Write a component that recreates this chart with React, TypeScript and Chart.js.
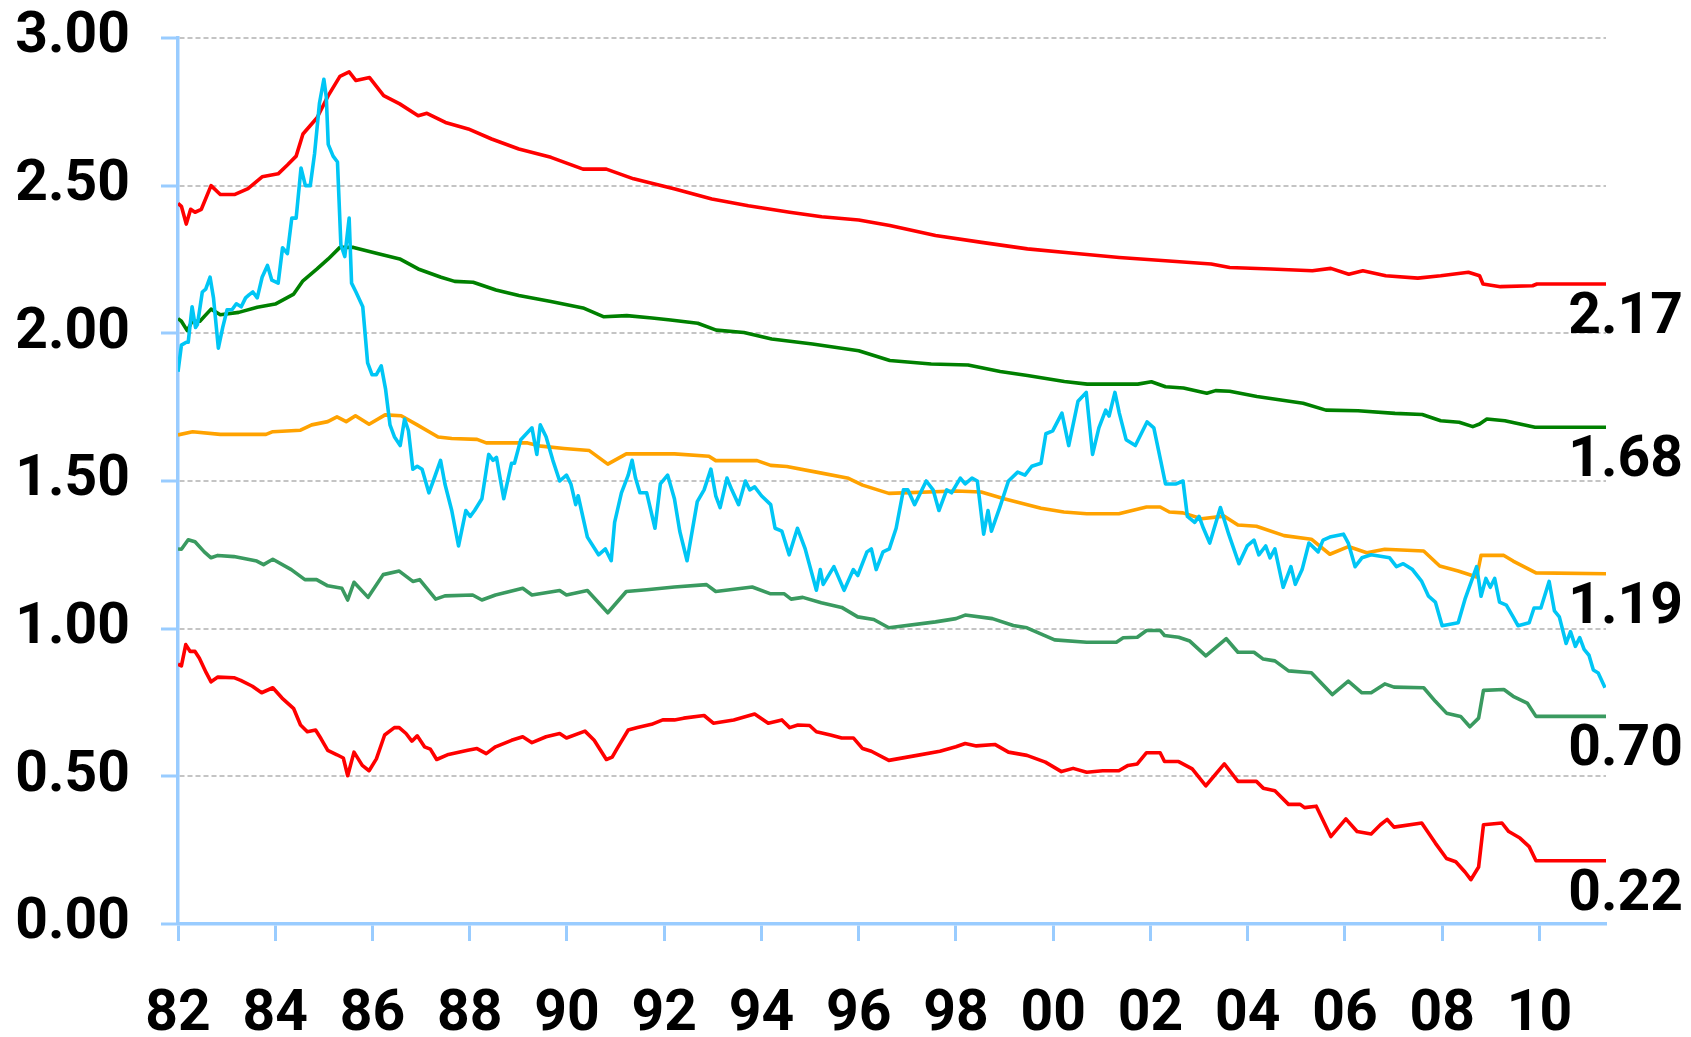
import React, { useEffect, useRef } from "react";
import { Chart, registerables } from "chart.js";

Chart.register(...registerables);

type Pt = [number, number];

const yTicks = [0, 0.5, 1, 1.5, 2, 2.5, 3];
const xStart = 1982;
const xEnd = 2011.37;

const upperRed: Pt[] = [
  [1982.0, 2.44], [1982.07, 2.43], [1982.17, 2.37], [1982.26, 2.42], [1982.35, 2.41], [1982.48, 2.42],
  [1982.68, 2.5], [1982.87, 2.47], [1983.16, 2.47], [1983.44, 2.49], [1983.73, 2.53], [1984.06, 2.54],
  [1984.25, 2.57], [1984.43, 2.6], [1984.57, 2.675], [1984.86, 2.73], [1985.09, 2.805], [1985.33, 2.87],
  [1985.52, 2.885], [1985.66, 2.856], [1985.94, 2.866], [1986.23, 2.805], [1986.56, 2.777], [1986.94, 2.737],
  [1987.12, 2.745], [1987.5, 2.714], [1987.97, 2.692], [1988.45, 2.658], [1989.01, 2.624], [1989.67, 2.596],
  [1990.33, 2.556], [1990.81, 2.556], [1991.37, 2.523], [1992.22, 2.489], [1992.98, 2.455], [1993.73, 2.432],
  [1994.58, 2.41], [1995.24, 2.395], [1996.0, 2.384], [1996.64, 2.365], [1997.11, 2.348], [1997.58, 2.331],
  [1998.53, 2.308], [1999.47, 2.286], [2000.42, 2.271], [2001.36, 2.257], [2002.31, 2.246], [2003.25, 2.235],
  [2003.63, 2.223], [2004.48, 2.218], [2005.33, 2.212], [2005.71, 2.22], [2006.08, 2.2], [2006.37, 2.212],
  [2006.84, 2.195], [2007.5, 2.187], [2007.97, 2.195], [2008.54, 2.207], [2008.77, 2.195], [2008.84, 2.167],
  [2009.2, 2.158], [2009.86, 2.161], [2009.95, 2.167], [2011.37, 2.167],
];

const darkGreen: Pt[] = [
  [1982.0, 2.05], [1982.07, 2.041], [1982.19, 2.009], [1982.29, 2.041], [1982.45, 2.041], [1982.68, 2.082],
  [1982.87, 2.063], [1983.25, 2.071], [1983.63, 2.088], [1984.0, 2.099], [1984.38, 2.133], [1984.57, 2.178],
  [1984.86, 2.218], [1985.09, 2.252], [1985.33, 2.291], [1985.61, 2.291], [1986.08, 2.271], [1986.56, 2.252],
  [1986.94, 2.218], [1987.41, 2.19], [1987.69, 2.176], [1988.07, 2.173], [1988.54, 2.147], [1989.01, 2.128],
  [1989.67, 2.108], [1990.33, 2.086], [1990.76, 2.056], [1991.23, 2.06], [1991.75, 2.052], [1992.13, 2.045],
  [1992.69, 2.034], [1993.07, 2.011], [1993.64, 2.003], [1994.21, 1.981], [1995.05, 1.964], [1996.0, 1.941],
  [1996.64, 1.908], [1997.49, 1.896], [1998.25, 1.893], [1998.91, 1.871], [1999.47, 1.857], [2000.23, 1.837],
  [2000.7, 1.828], [2001.74, 1.828], [2002.02, 1.836], [2002.31, 1.819], [2002.68, 1.815], [2003.16, 1.797],
  [2003.34, 1.806], [2003.63, 1.804], [2004.19, 1.786], [2005.14, 1.763], [2005.61, 1.74], [2006.27, 1.738],
  [2007.03, 1.729], [2007.59, 1.725], [2007.97, 1.704], [2008.35, 1.699], [2008.63, 1.684], [2008.77, 1.693],
  [2008.92, 1.71], [2009.29, 1.704], [2009.91, 1.682], [2011.37, 1.682],
];

const orange: Pt[] = [
  [1982.0, 1.656], [1982.3, 1.667], [1982.87, 1.658], [1983.81, 1.658], [1983.95, 1.667], [1984.52, 1.672],
  [1984.75, 1.69], [1985.08, 1.701], [1985.27, 1.717], [1985.46, 1.701], [1985.65, 1.721], [1985.93, 1.692],
  [1986.26, 1.724], [1986.59, 1.721], [1986.92, 1.69], [1987.35, 1.649], [1987.63, 1.644], [1988.15, 1.641],
  [1988.34, 1.629], [1989.19, 1.629], [1989.47, 1.618], [1989.94, 1.61], [1990.46, 1.603], [1990.84, 1.557],
  [1991.22, 1.592], [1992.21, 1.592], [1992.92, 1.584], [1993.06, 1.569], [1993.91, 1.569], [1994.19, 1.553],
  [1994.52, 1.549], [1995.13, 1.53], [1995.79, 1.509], [1996.08, 1.486], [1996.62, 1.458], [1998.0, 1.466],
  [1998.52, 1.463], [1998.99, 1.44], [1999.75, 1.408], [2000.22, 1.395], [2000.69, 1.389], [2001.35, 1.389],
  [2001.92, 1.412], [2002.2, 1.412], [2002.39, 1.395], [2002.67, 1.392], [2003.05, 1.372], [2003.52, 1.381],
  [2003.8, 1.351], [2004.18, 1.347], [2004.75, 1.315], [2005.31, 1.303], [2005.69, 1.252], [2006.07, 1.278],
  [2006.45, 1.257], [2006.82, 1.269], [2007.62, 1.263], [2007.95, 1.212], [2008.33, 1.195], [2008.71, 1.175],
  [2008.8, 1.248], [2009.27, 1.248], [2009.46, 1.229], [2009.93, 1.189], [2011.37, 1.186],
];

const seaGreen: Pt[] = [
  [1982.0, 1.27], [1982.07, 1.269], [1982.21, 1.301], [1982.35, 1.294], [1982.54, 1.26], [1982.68, 1.24],
  [1982.82, 1.248], [1983.15, 1.244], [1983.62, 1.229], [1983.76, 1.217], [1983.95, 1.235], [1984.33, 1.2],
  [1984.61, 1.166], [1984.85, 1.166], [1985.08, 1.145], [1985.37, 1.137], [1985.49, 1.097], [1985.62, 1.157],
  [1985.91, 1.106], [1986.22, 1.183], [1986.55, 1.195], [1986.83, 1.16], [1986.97, 1.166], [1987.3, 1.1],
  [1987.49, 1.111], [1988.06, 1.114], [1988.25, 1.097], [1988.53, 1.114], [1989.09, 1.137], [1989.28, 1.114],
  [1989.85, 1.129], [1989.99, 1.114], [1990.42, 1.129], [1990.84, 1.054], [1991.22, 1.126], [1991.64, 1.132],
  [1992.21, 1.141], [1992.87, 1.149], [1993.06, 1.126], [1993.81, 1.141], [1994.19, 1.118], [1994.47, 1.118],
  [1994.61, 1.1], [1994.85, 1.106], [1995.23, 1.088], [1995.65, 1.072], [1995.98, 1.04], [1996.31, 1.031],
  [1996.62, 1.003], [1997.58, 1.023], [1998.0, 1.034], [1998.19, 1.046], [1998.75, 1.034], [1999.18, 1.011],
  [1999.46, 1.003], [2000.03, 0.962], [2000.69, 0.954], [2001.3, 0.954], [2001.44, 0.969], [2001.73, 0.971],
  [2001.92, 0.994], [2002.2, 0.994], [2002.29, 0.977], [2002.58, 0.971], [2002.81, 0.958], [2003.14, 0.908],
  [2003.56, 0.966], [2003.8, 0.92], [2004.13, 0.92], [2004.32, 0.897], [2004.56, 0.891], [2004.84, 0.857],
  [2005.31, 0.851], [2005.74, 0.777], [2006.07, 0.822], [2006.35, 0.783], [2006.54, 0.783], [2006.82, 0.813],
  [2007.01, 0.802], [2007.62, 0.8], [2007.86, 0.754], [2008.09, 0.714], [2008.38, 0.703], [2008.57, 0.668],
  [2008.75, 0.697], [2008.85, 0.791], [2009.27, 0.794], [2009.46, 0.771], [2009.75, 0.748], [2009.93, 0.703],
  [2011.37, 0.703],
];

const lowerRed: Pt[] = [
  [1982.0, 0.88], [1982.07, 0.874], [1982.16, 0.946], [1982.25, 0.923], [1982.35, 0.923], [1982.44, 0.9],
  [1982.58, 0.851], [1982.68, 0.82], [1982.82, 0.836], [1983.15, 0.834], [1983.29, 0.825], [1983.53, 0.805],
  [1983.72, 0.783], [1983.95, 0.8], [1984.14, 0.765], [1984.38, 0.729], [1984.52, 0.674], [1984.66, 0.651],
  [1984.83, 0.657], [1984.94, 0.628], [1985.08, 0.588], [1985.27, 0.573], [1985.4, 0.562], [1985.49, 0.502],
  [1985.62, 0.582], [1985.79, 0.537], [1985.93, 0.519], [1986.08, 0.559], [1986.25, 0.64], [1986.45, 0.665],
  [1986.55, 0.665], [1986.69, 0.645], [1986.81, 0.619], [1986.92, 0.637], [1987.07, 0.6], [1987.19, 0.592],
  [1987.32, 0.557], [1987.54, 0.573], [1987.96, 0.588], [1988.15, 0.594], [1988.34, 0.577], [1988.53, 0.6],
  [1988.86, 0.622], [1989.09, 0.634], [1989.28, 0.614], [1989.57, 0.634], [1989.85, 0.645], [1989.99, 0.63],
  [1990.37, 0.653], [1990.56, 0.622], [1990.81, 0.557], [1990.93, 0.565], [1991.03, 0.594], [1991.26, 0.657],
  [1991.45, 0.665], [1991.74, 0.676], [1991.97, 0.691], [1992.21, 0.691], [1992.4, 0.697], [1992.82, 0.706],
  [1993.01, 0.68], [1993.43, 0.691], [1993.86, 0.711], [1994.14, 0.68], [1994.42, 0.691], [1994.58, 0.665],
  [1994.75, 0.674], [1994.99, 0.672], [1995.13, 0.651], [1995.42, 0.64], [1995.65, 0.63], [1995.89, 0.63],
  [1996.08, 0.594], [1996.26, 0.585], [1996.62, 0.554], [1997.2, 0.571], [1997.67, 0.585], [1998.0, 0.6],
  [1998.19, 0.611], [1998.42, 0.603], [1998.8, 0.608], [1999.08, 0.582], [1999.46, 0.571], [1999.84, 0.548],
  [2000.17, 0.516], [2000.41, 0.527], [2000.69, 0.514], [2001.02, 0.519], [2001.35, 0.519], [2001.54, 0.537],
  [2001.73, 0.542], [2001.92, 0.58], [2002.2, 0.58], [2002.29, 0.55], [2002.58, 0.55], [2002.86, 0.525],
  [2003.14, 0.468], [2003.52, 0.542], [2003.8, 0.483], [2004.18, 0.483], [2004.32, 0.46], [2004.56, 0.451],
  [2004.84, 0.405], [2005.08, 0.405], [2005.17, 0.394], [2005.41, 0.399], [2005.71, 0.296], [2006.02, 0.356],
  [2006.25, 0.313], [2006.54, 0.305], [2006.73, 0.336], [2006.87, 0.354], [2007.01, 0.328], [2007.58, 0.342],
  [2007.86, 0.274], [2008.09, 0.222], [2008.28, 0.211], [2008.47, 0.176], [2008.59, 0.15], [2008.75, 0.193],
  [2008.85, 0.336], [2009.23, 0.342], [2009.37, 0.313], [2009.6, 0.291], [2009.79, 0.262], [2009.93, 0.214],
  [2011.37, 0.214],
];

const skyBlue: Pt[] = [
  [1982.0, 1.87], [1982.07, 1.96], [1982.17, 1.97], [1982.21, 1.97], [1982.29, 2.09], [1982.36, 2.02], [1982.4, 2.03],
  [1982.5, 2.14], [1982.57, 2.15], [1982.66, 2.19], [1982.73, 2.12], [1982.83, 1.95], [1982.92, 2.02], [1983.01, 2.08],
  [1983.11, 2.08], [1983.2, 2.1], [1983.3, 2.09], [1983.39, 2.12], [1983.46, 2.13], [1983.54, 2.14], [1983.63, 2.12],
  [1983.73, 2.19], [1983.84, 2.23], [1983.93, 2.18], [1984.06, 2.17], [1984.15, 2.29], [1984.25, 2.27], [1984.34, 2.39],
  [1984.43, 2.39], [1984.53, 2.56], [1984.62, 2.5], [1984.72, 2.5], [1984.81, 2.61], [1984.91, 2.78], [1985.0, 2.86],
  [1985.05, 2.8], [1985.09, 2.64], [1985.19, 2.6], [1985.28, 2.58], [1985.35, 2.3], [1985.43, 2.26], [1985.52, 2.39],
  [1985.57, 2.17], [1985.66, 2.14], [1985.8, 2.09], [1985.9, 1.9], [1985.99, 1.86], [1986.08, 1.86], [1986.18, 1.89],
  [1986.27, 1.81], [1986.36, 1.69], [1986.45, 1.65], [1986.57, 1.62], [1986.66, 1.71], [1986.74, 1.67], [1986.83, 1.54],
  [1986.92, 1.55], [1987.02, 1.54], [1987.16, 1.46], [1987.25, 1.5], [1987.4, 1.57], [1987.49, 1.49], [1987.63, 1.4],
  [1987.77, 1.28], [1987.92, 1.4], [1988.01, 1.38], [1988.1, 1.4], [1988.25, 1.44], [1988.39, 1.59], [1988.48, 1.57],
  [1988.55, 1.58], [1988.7, 1.44], [1988.86, 1.56], [1988.92, 1.56], [1989.05, 1.64], [1989.28, 1.68], [1989.38, 1.59],
  [1989.45, 1.69], [1989.57, 1.65], [1989.71, 1.57], [1989.85, 1.5], [1989.99, 1.52], [1990.08, 1.49], [1990.18, 1.42],
  [1990.23, 1.45], [1990.42, 1.31], [1990.65, 1.25], [1990.79, 1.27], [1990.91, 1.23], [1990.98, 1.36], [1991.12, 1.46],
  [1991.26, 1.52], [1991.34, 1.57], [1991.41, 1.51], [1991.5, 1.46], [1991.64, 1.46], [1991.81, 1.34], [1991.92, 1.49],
  [1992.07, 1.52], [1992.21, 1.44], [1992.32, 1.33], [1992.47, 1.23], [1992.68, 1.43], [1992.82, 1.47], [1992.96, 1.54],
  [1993.06, 1.45], [1993.15, 1.41], [1993.29, 1.51], [1993.39, 1.47], [1993.53, 1.42], [1993.67, 1.5], [1993.76, 1.47],
  [1993.86, 1.48], [1994.0, 1.45], [1994.19, 1.42], [1994.28, 1.34], [1994.42, 1.33], [1994.57, 1.25], [1994.74, 1.34],
  [1994.9, 1.27], [1995.13, 1.13], [1995.21, 1.2], [1995.27, 1.15], [1995.49, 1.21], [1995.7, 1.13], [1995.89, 1.2],
  [1995.98, 1.18], [1996.17, 1.26], [1996.26, 1.27], [1996.36, 1.2], [1996.5, 1.26], [1996.63, 1.27], [1996.77, 1.34],
  [1996.92, 1.47], [1997.01, 1.47], [1997.15, 1.42], [1997.39, 1.5], [1997.53, 1.47], [1997.65, 1.4], [1997.81, 1.47],
  [1997.91, 1.46], [1998.09, 1.51], [1998.19, 1.49], [1998.33, 1.51], [1998.44, 1.5], [1998.57, 1.32], [1998.66, 1.4],
  [1998.73, 1.33], [1998.9, 1.41], [1999.08, 1.5], [1999.27, 1.53], [1999.42, 1.52], [1999.56, 1.55], [1999.75, 1.56],
  [1999.85, 1.66], [1999.99, 1.67], [2000.18, 1.73], [2000.32, 1.62], [2000.51, 1.77], [2000.68, 1.8], [2000.81, 1.59],
  [2000.94, 1.68], [2001.08, 1.74], [2001.15, 1.72], [2001.27, 1.8], [2001.36, 1.73], [2001.5, 1.64], [2001.69, 1.62],
  [2001.93, 1.7], [2002.07, 1.68], [2002.21, 1.57], [2002.31, 1.49], [2002.53, 1.49], [2002.67, 1.5], [2002.76, 1.38],
  [2002.91, 1.36], [2003.0, 1.38], [2003.09, 1.34], [2003.22, 1.29], [2003.44, 1.41], [2003.61, 1.32], [2003.82, 1.22],
  [2003.99, 1.28], [2004.13, 1.3], [2004.23, 1.25], [2004.37, 1.28], [2004.46, 1.24], [2004.56, 1.27], [2004.73, 1.14],
  [2004.89, 1.21], [2004.98, 1.15], [2005.12, 1.2], [2005.26, 1.29], [2005.45, 1.26], [2005.55, 1.3], [2005.69, 1.31],
  [2005.97, 1.32], [2006.07, 1.29], [2006.21, 1.21], [2006.35, 1.24], [2006.54, 1.25], [2006.92, 1.24], [2007.06, 1.21],
  [2007.2, 1.22], [2007.39, 1.2], [2007.58, 1.16], [2007.72, 1.11], [2007.86, 1.09], [2008.0, 1.01], [2008.33, 1.02],
  [2008.47, 1.1], [2008.71, 1.21], [2008.8, 1.11], [2008.9, 1.17], [2008.99, 1.14], [2009.08, 1.17], [2009.18, 1.09],
  [2009.32, 1.08], [2009.46, 1.04], [2009.56, 1.01], [2009.79, 1.02], [2009.89, 1.07], [2010.03, 1.07], [2010.2, 1.16],
  [2010.31, 1.06], [2010.41, 1.04], [2010.55, 0.95], [2010.64, 0.99], [2010.74, 0.94], [2010.83, 0.97], [2010.92, 0.93],
  [2011.02, 0.91], [2011.11, 0.86], [2011.21, 0.85], [2011.35, 0.8],
];

const endLabels: { text: string; series: Pt[] }[] = [
  { text: "2.17", series: upperRed },
  { text: "1.68", series: darkGreen },
  { text: "1.19", series: orange },
  { text: "0.70", series: seaGreen },
  { text: "0.22", series: lowerRed },
];

const FONT_FAMILY = "Roboto";
const FONT_SIZE = 57;
const AXIS_BLUE = "#99ccff";

const endLabelPlugin = {
  id: "endLabels",
  afterDatasetsDraw(chart: any) {
    const { ctx, chartArea } = chart;
    const yScale = chart.scales.y;
    ctx.save();
    ctx.font = `bold ${FONT_SIZE}px ${FONT_FAMILY}`;
    ctx.fillStyle = "#000000";
    ctx.textAlign = "right";
    ctx.textBaseline = "alphabetic";
    endLabels.forEach((l) => {
      const last = l.series[l.series.length - 1];
      const py = yScale.getPixelForValue(last[1]);
      ctx.fillText(l.text, chartArea.right + 77, py + 49);
    });
    ctx.restore();
  },
};

const toXY = (s: Pt[]) => s.map(([x, y]) => ({ x, y }));

export default function App() {
  const ref = useRef<HTMLCanvasElement | null>(null);

  useEffect(() => {
    if (!ref.current) return;
    const line = (data: Pt[], color: string) => ({
      data: toXY(data),
      borderColor: color,
      backgroundColor: color,
      borderWidth: 3.6,
      pointRadius: 0,
      tension: 0,
      fill: false,
      borderJoinStyle: "round",
    });
    const chart = new Chart(ref.current, {
      type: "line",
      data: {
        datasets: [
          line(skyBlue, "#00c6f5"),
          line(upperRed, "#ff0000"),
          line(darkGreen, "#008000"),
          line(orange, "#ffa200"),
          line(seaGreen, "#3a9a60"),
          line(lowerRed, "#ff0000"),
        ],
      },
      options: {
        animation: false,
        responsive: true,
        maintainAspectRatio: false,
        layout: { padding: { left: 0, top: 38, right: 85, bottom: 0 } },
        plugins: { legend: { display: false }, tooltip: { enabled: false } },
        scales: {
          x: {
            type: "linear",
            min: xStart,
            max: xEnd,
            afterFit: (s: any) => {
              s.height = 113;
              s.paddingLeft = 0;
              s.paddingRight = 0;
            },
            grid: {
              drawOnChartArea: false,
              drawTicks: true,
              tickLength: 17,
              tickWidth: 3,
              tickColor: AXIS_BLUE,
              color: AXIS_BLUE,
            },
            border: { display: true, color: AXIS_BLUE, width: 3.5 },
            ticks: {
              stepSize: 2,
              includeBounds: false,
              autoSkip: false,
              maxRotation: 0,
              padding: 41,
              color: "#000000",
              font: { family: FONT_FAMILY, size: FONT_SIZE, weight: "bold" },
              callback: (v: any) => String(Math.round(Number(v)) % 100).padStart(2, "0"),
            },
          },
          y: {
            type: "linear",
            min: yTicks[0],
            max: yTicks[yTicks.length - 1],
            afterFit: (s: any) => {
              s.width = 178;
              s.paddingTop = 0;
              s.paddingBottom = 0;
            },
            afterBuildTicks: (s: any) => {
              s.ticks = yTicks.map((v) => ({ value: v }));
            },
            grid: {
              drawOnChartArea: true,
              drawTicks: true,
              tickLength: 17,
              tickWidth: 3,
              tickColor: AXIS_BLUE,
              color: "#c4c4c4",
              lineWidth: 2,
            },
            border: { display: true, color: AXIS_BLUE, width: 3.5, dash: [5, 3] },
            ticks: {
              padding: 31,
              color: "#000000",
              font: { family: FONT_FAMILY, size: FONT_SIZE, weight: "bold" },
              callback: (v: any) => Number(v).toFixed(2),
            },
          },
        },
      },
      plugins: [endLabelPlugin],
    } as any);
    return () => chart.destroy();
  }, []);

  return (
    <div style={{ position: "fixed", left: 0, top: 0, width: 1691, height: 1037, background: "#ffffff" }}>
      <canvas ref={ref} />
    </div>
  );
}
